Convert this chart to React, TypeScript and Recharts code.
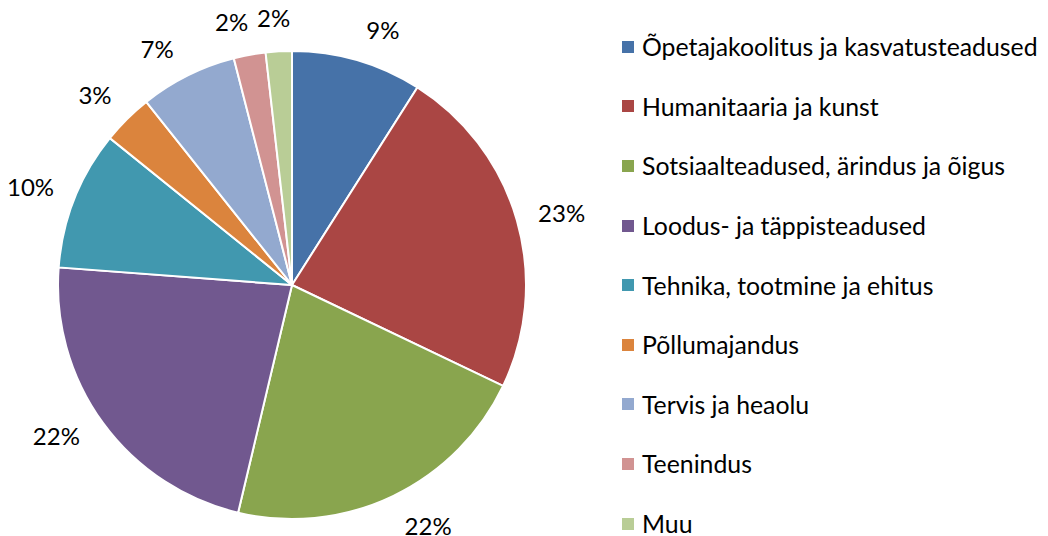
import React from 'react';
import { PieChart, Pie, Cell, Legend } from 'recharts';

const categories = [
  'Õpetajakoolitus ja kasvatusteadused',
  'Humanitaaria ja kunst',
  'Sotsiaalteadused, ärindus ja õigus',
  'Loodus- ja täppisteadused',
  'Tehnika, tootmine ja ehitus',
  'Põllumajandus',
  'Tervis ja heaolu',
  'Teenindus',
  'Muu',
];
const values = [9.0, 23.1, 21.6, 22.5, 9.6, 3.5, 6.7, 2.2, 1.8];
const labels = ['9%', '23%', '22%', '22%', '10%', '3%', '7%', '2%', '2%'];
const colors = ['#4672A8', '#AA4644', '#89A54E', '#71588F', '#4198AF', '#DB843D', '#93A9CF', '#D19392', '#B9CD96'];
// small clockwise angle nudges (degrees) for label placement, like Excel's best fit
const labelAngleNudge = [3.4, 1, -4, 3.6, -0.9, -1.2, -3.2, -2.5, -0.7];

const data = categories.map((name, i) => ({ name, value: values[i], label: labels[i] }));

const FONT = 'Lato, "Liberation Sans", sans-serif';
const RAD = Math.PI / 180;

const renderLabel = (props: any) => {
  const { cx, cy, midAngle, outerRadius, index } = props;
  const text = labels[index];
  const hw = text.length * 7;
  const hh = 11;
  const ang = midAngle - labelAngleNudge[index];
  const cos = Math.cos(-ang * RAD);
  const sin = Math.sin(-ang * RAD);
  const off = hw * Math.abs(cos) + hh * Math.abs(sin);
  const r = outerRadius + 22 + off;
  const x = cx + r * cos;
  const y = cy + r * sin;
  return (
    <text x={x} y={y} fill="#000" fontSize={24} fontFamily={FONT} textAnchor="middle" dominantBaseline="central">
      {text}
    </text>
  );
};

const renderLegend = () => (
  <div style={{ fontFamily: FONT, fontSize: 24.8, color: '#000' }}>
    {categories.map((c, i) => (
      <div key={c} style={{ height: 59.6, display: 'flex', alignItems: 'center', whiteSpace: 'nowrap' }}>
        <span style={{ display: 'inline-block', width: 12, height: 12, background: colors[i], marginRight: 8 }} />
        <span>{c}</span>
      </div>
    ))}
  </div>
);

export default function App() {
  return (
    <div style={{ position: 'absolute', left: 0, top: 0, width: 1048, height: 536, background: '#fff' }}>
      <PieChart width={1048} height={536}>
        <Pie
          data={data}
          dataKey="value"
          nameKey="name"
          cx={287}
          cy={280}
          outerRadius={234}
          startAngle={90}
          endAngle={-270}
          stroke="#fff"
          strokeWidth={2}
          label={renderLabel}
          labelLine={false}
          isAnimationActive={false}
        >
          {data.map((d, i) => (
            <Cell key={d.name} fill={colors[i]} />
          ))}
        </Pie>
        <Legend
          content={renderLegend}
          wrapperStyle={{ position: 'absolute', left: 622, top: 17, width: 426 }}
        />
      </PieChart>
    </div>
  );
}
